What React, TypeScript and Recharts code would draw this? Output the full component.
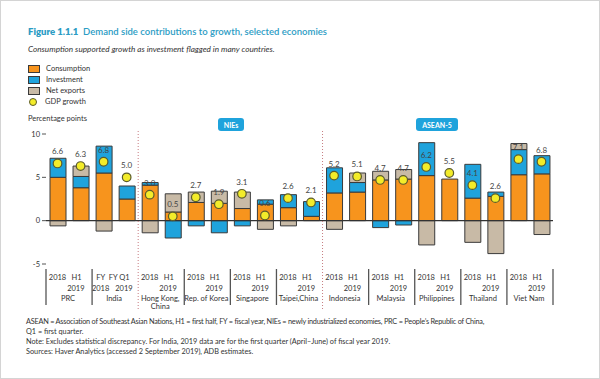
import { ComposedChart, Bar, Scatter, XAxis, YAxis, ReferenceLine } from 'recharts';

const periodTop = ['2018', 'H1', 'FY', 'FY Q1', '2018', 'H1', '2018', 'H1', '2018', 'H1', '2018', 'H1', '2018', 'H1', '2018', 'H1', '2018', 'H1', '2018', 'H1', '2018', 'H1'];
const periodBottom = ['', '2019', '2018', '2019', '', '2019', '', '2019', '', '2019', '', '2019', '', '2019', '', '2019', '', '2019', '', '2019', '', '2019'];
const economies = ['PRC', 'India', 'Hong Kong, China', 'Rep. of Korea', 'Singapore', 'Taipei,China', 'Indonesia', 'Malaysia', 'Philippines', 'Thailand', 'Viet Nam'];

const consumption = [5.0, 3.8, 5.5, 2.5, 4.1, 1.0, 2.1, 2.0, 1.4, 1.9, 1.5, 0.5, 3.2, 3.3, 4.7, 4.8, 5.2, 4.8, 2.6, 2.8, 5.3, 5.4];
const investment = [2.2, 1.3, 3.1, 1.5, 0.3, -2.0, -0.6, -1.4, -0.6, 0.5, 1.5, 1.7, 2.9, 1.1, -0.8, -0.5, 3.8, 0, 3.9, 0.5, 2.9, 2.1];
const netExports = [-0.6, 1.2, -1.2, 0, -1.4, 2.1, 1.2, 1.4, 1.9, -1.0, -0.6, 0, -1.0, 1.1, 1.0, 1.1, -2.8, 0, -2.5, -3.8, 0.7, -1.6];
const gdpGrowth = [6.6, 6.3, 6.8, 5.0, 3.0, 0.5, 2.7, 1.9, 3.1, 0.6, 2.6, 2.1, 5.2, 5.1, 4.7, 4.7, 6.2, 5.5, 4.1, 2.6, 7.1, 6.8];

const yTicks = [-5, 0, 5, 10];

const data = periodTop.map((p, i) => ({
  key: `${economies[Math.floor(i / 2)]} ${p} ${periodBottom[i]}`,
  consumption: consumption[i],
  investment: investment[i],
  netExports: netExports[i],
  gdp: gdpGrowth[i],
}));

const ORANGE = '#f7941d';
const BLUE = '#1fa3dc';
const GREY = '#c8baa6';
const EDGE = '#3a3a3a';
const TEAL = '#2b9cc4';
const FONT = 'Lato, "Open Sans", sans-serif';

const BAND = 507 / 22;

const GdpDot = (props: any) => {
  const { cx, cy, payload } = props;
  return (
    <g>
      <circle cx={cx} cy={cy} r={4.3} fill="#f3ec2a" stroke="#5c5c2a" strokeWidth={1.2} />
      <text x={cx} y={cy - 9} textAnchor="middle" fontSize={8} fill="#444" fontFamily={FONT}>
        {payload.gdp.toFixed(1)}
      </text>
    </g>
  );
};

const PeriodTick = (props: any) => {
  const { x, y, payload } = props;
  const i = payload.index;
  const first = i % 2 === 0;
  const name = economies[Math.floor(i / 2)];
  const nameLines = name === 'Hong Kong, China' ? ['Hong Kong,', 'China'] : [name];
  const dotted = i === 4 || i === 12;
  // India's fiscal-year labels are wider, nudge them apart
  const nudge = i === 2 ? -3 : i === 3 ? 2 : 0;
  return (
    <g fontFamily={FONT} fontSize={7.5} fill="#333">
      <text x={(first ? x : x + 1) + nudge} y={y + 8} textAnchor={first ? 'middle' : 'end'}>{periodTop[i]}</text>
      {periodBottom[i] && (
        <text x={(first ? x : x + 4) + nudge} y={y + 18.5} textAnchor={first ? 'middle' : 'end'}>{periodBottom[i]}</text>
      )}
      {first && nameLines.map((l, k) => (
        <text key={k} x={x + BAND / 2 - 1} y={y + 28.5 + k * 8} textAnchor="middle">{l}</text>
      ))}
      {first && !dotted && (
        <line x1={x - BAND / 2} x2={x - BAND / 2} y1={y - 3} y2={y + 33} stroke="#555" strokeWidth={1.3} />
      )}
      {dotted && (
        <line x1={x - BAND / 2} x2={x - BAND / 2} y1={130} y2={y + 38} stroke="#c77c80" strokeWidth={1} strokeDasharray="1 2" />
      )}
      {i === 21 && (
        <line x1={x + BAND / 2} x2={x + BAND / 2} y1={y - 3} y2={y + 33} stroke="#555" strokeWidth={1.3} />
      )}
    </g>
  );
};

const legendItems = [
  { label: 'Consumption', color: ORANGE },
  { label: 'Investment', color: BLUE },
  { label: 'Net exports', color: GREY },
];

const notes = [
  'ASEAN = Association of Southeast Asian Nations, H1 = first half, FY = fiscal year, NIEs = newly industrialized economies, PRC = People\u2019s Republic of China,',
  'Q1 = first quarter.',
  'Note: Excludes statistical discrepancy. For India, 2019 data are for the first quarter (April\u2013June) of fiscal year 2019.',
  'Sources: Haver Analytics (accessed 2 September 2019), ADB estimates.',
];

export default function App() {
  return (
    <div
      style={{
        position: 'fixed', left: 0, top: 0, width: 600, height: 379, background: '#fff',
        border: '1px solid #d4d4d4', boxSizing: 'border-box', fontFamily: FONT, color: '#333', overflow: 'hidden',
      }}
    >
      <div style={{ position: 'absolute', left: 27, top: 25, fontSize: 9.5, color: TEAL, whiteSpace: 'nowrap', fontWeight: 600 }}>
        <span style={{ fontWeight: 800 }}>Figure 1.1.1</span>&nbsp; Demand side contributions to growth, selected economies
      </div>
      <div style={{ position: 'absolute', left: 27, top: 43, fontSize: 8.2, fontStyle: 'italic', whiteSpace: 'nowrap', color: '#333' }}>
        Consumption supported growth as investment flagged in many countries.
      </div>
      {legendItems.map((it, k) => (
        <div key={it.label} style={{ position: 'absolute', left: 27, top: 63 + k * 11, display: 'flex', alignItems: 'center', fontSize: 7.5, whiteSpace: 'nowrap' }}>
          <span style={{ width: 10, height: 6, background: it.color, border: `1px solid ${EDGE}`, marginRight: 6, display: 'inline-block' }} />
          {it.label}
        </div>
      ))}
      <div style={{ position: 'absolute', left: 28, top: 96, display: 'flex', alignItems: 'center', fontSize: 7.5, whiteSpace: 'nowrap' }}>
        <span style={{ width: 6, height: 6, borderRadius: '50%', background: '#f3ec2a', border: '1.3px solid #5c5c2a', marginRight: 8, display: 'inline-block' }} />
        GDP growth
      </div>
      <div style={{ position: 'absolute', left: 27, top: 113, fontSize: 7.5, whiteSpace: 'nowrap' }}>Percentage points</div>
      <div style={{ position: 'absolute', left: 217, top: 117, width: 26, height: 13, borderRadius: 3, background: BLUE, color: '#fff', fontSize: 7, fontWeight: 700, display: 'flex', alignItems: 'center', justifyContent: 'center' }}>NIEs</div>
      <div style={{ position: 'absolute', left: 415, top: 117, width: 42, height: 13, borderRadius: 3, background: BLUE, color: '#fff', fontSize: 7, fontWeight: 700, display: 'flex', alignItems: 'center', justifyContent: 'center' }}>ASEAN-5</div>

      <div style={{ position: 'absolute', left: 0, top: 0 }}>
        <ComposedChart
          width={600}
          height={379}
          data={data}
          stackOffset="sign"
          margin={{ top: 133, right: 40, bottom: 76, left: 20 }}
          barCategoryGap={7}
        >
          <XAxis dataKey="key" interval={0} tickLine={false} axisLine={false} height={40} tick={<PeriodTick />} />
          <YAxis
            domain={[-5, 10]}
            ticks={yTicks}
            width={25}
            axisLine={false}
            tickSize={4}
            tickLine={{ stroke: '#555' }}
            tick={{ fontSize: 7.5, fill: '#333', fontFamily: FONT }}
          />
          <YAxis
            yAxisId="r"
            orientation="right"
            domain={[-5, 10]}
            ticks={yTicks}
            width={8}
            axisLine={false}
            tickSize={4}
            tickLine={{ stroke: '#555' }}
            tick={false}
          />
          <Bar dataKey="consumption" stackId="a" fill={ORANGE} stroke={EDGE} strokeWidth={1} barSize={16} isAnimationActive={false} />
          <Bar dataKey="investment" stackId="a" fill={BLUE} stroke={EDGE} strokeWidth={1} barSize={16} isAnimationActive={false} />
          <Bar dataKey="netExports" stackId="a" fill={GREY} stroke={EDGE} strokeWidth={1} barSize={16} isAnimationActive={false} />
          <ReferenceLine y={0} stroke="#333" strokeWidth={1.2} />
          <Scatter dataKey="gdp" shape={<GdpDot />} isAnimationActive={false} />
        </ComposedChart>
      </div>

      {notes.map((n, k) => (
        <div key={k} style={{ position: 'absolute', left: 25, top: 316 + k * 9.7 + (k > 1 ? 0.5 : 0), fontSize: 7.3, whiteSpace: 'nowrap', color: '#333', letterSpacing: k === 0 ? -0.22 : 0 }}>
          {n}
        </div>
      ))}
    </div>
  );
}
